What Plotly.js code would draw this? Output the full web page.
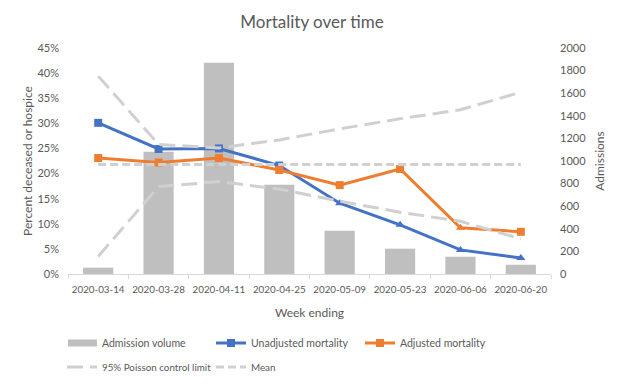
<!DOCTYPE html>
<html><head><meta charset="utf-8">
<script src="https://cdn.plot.ly/plotly-3.0.1.min.js"></script>
<style>html,body{margin:0;padding:0;background:#fff}</style>
</head><body><div id="chart" style="width:624px;height:385px"></div>
<script>
const weeks = ["2020-03-14","2020-03-28","2020-04-11","2020-04-25","2020-05-09","2020-05-23","2020-06-06","2020-06-20"];
const admissions = [56, 1082, 1870, 790, 383, 224, 153, 82];
const unadjusted = [30.1, 24.9, 25.0, 21.6, 14.1, 9.8, 4.8, 3.2];
const adjusted = [23.1, 22.2, 23.1, 20.7, 17.7, 20.9, 9.2, 8.4];
const upperLimit = [39.4, 25.8, 25.1, 26.7, 28.9, 30.9, 32.7, 36.2];
const lowerLimit = [3.5, 17.4, 18.4, 16.9, 14.5, 12.3, 10.5, 7.0];
const meanRate = [21.8, 21.8, 21.8, 21.8, 21.8, 21.8, 21.8, 21.8];
const unadjSymbols = ["square","square","square","square","triangle-up","triangle-up","triangle-up","triangle-up"];
const adjSymbols = ["square","square","square","square","square","square","triangle-up","square"];

const FONT = "Lato, 'Open Sans', sans-serif";
const TXT = "#595959";
const GRAY = "#d0d0d0";

const traces = [
  {type:"bar", x:weeks, y:admissions, name:"Admission volume", yaxis:"y",
   marker:{color:"#bfbfbf"}, legend:"legend", hoverinfo:"skip"},
  {type:"scatter", mode:"lines+markers", x:weeks, y:unadjusted, yaxis:"y2", name:"Unadjusted mortality",
   line:{color:"#4472c4", width:3}, marker:{color:"#4472c4", size:8, symbol:unadjSymbols}, legend:"legend"},
  {type:"scatter", mode:"lines+markers", x:weeks, y:adjusted, yaxis:"y2", name:"Adjusted mortality",
   line:{color:"#ed7d31", width:3}, marker:{color:"#ed7d31", size:8, symbol:adjSymbols}, legend:"legend"},
  {type:"scatter", mode:"lines", x:weeks, y:upperLimit, yaxis:"y2", name:"95% Poisson control limit",
   line:{color:GRAY, width:3, dash:"16px,7px"}, legendgroup:"ctl", legend:"legend2"},
  {type:"scatter", mode:"lines", x:weeks, y:lowerLimit, yaxis:"y2", name:"95% Poisson control limit",
   line:{color:GRAY, width:3, dash:"16px,7px"}, legendgroup:"ctl", showlegend:false, legend:"legend2"},
  {type:"scatter", mode:"lines", x:weeks, y:meanRate, yaxis:"y2", name:"Mean",
   line:{color:GRAY, width:3, dash:"8px,4px"}, legend:"legend2"}
];

const legendCommon = {orientation:"h", xref:"container", yref:"container", xanchor:"left", yanchor:"middle",
  entrywidth:104, entrywidthmode:"pixels", font:{family:FONT, size:10.5, color:TXT},
  bgcolor:"rgba(0,0,0,0)", traceorder:"normal", itemclick:false, itemdoubleclick:false};

const layout = {
  width:624, height:385,
  margin:{l:68, r:73, t:48, b:111},
  paper_bgcolor:"#fff", plot_bgcolor:"#fff",
  font:{family:FONT, color:TXT},
  title:{text:"Mortality over time", font:{family:FONT, size:17, color:TXT}, x:0.5, xanchor:"center", y:1-22/385, yref:"container", yanchor:"middle"},
  bargap:0.5,
  showlegend:true,
  xaxis:{type:"category", tickson:"boundaries", ticks:"outside", ticklen:4, tickcolor:"#d9d9d9",
    showline:true, linecolor:"#d9d9d9", linewidth:1, showgrid:false, zeroline:false,
    tickfont:{family:FONT, size:9.8, color:TXT}, tickangle:0, ticklabelstandoff:6,
    title:{text:"Week ending", font:{family:FONT, size:12, color:TXT}, standoff:14}},
  yaxis:{side:"right", range:[0,2000], dtick:200, showgrid:false, zeroline:false, showline:false,
    tickfont:{family:FONT, size:11, color:TXT}, ticklabelstandoff:8,
    title:{text:"Admissions", font:{family:FONT, size:12, color:TXT}, standoff:10}},
  yaxis2:{overlaying:"y", side:"left", range:[0,45], dtick:5, ticksuffix:"%", showgrid:false, zeroline:false, showline:false,
    tickfont:{family:FONT, size:11, color:TXT}, ticklabelstandoff:8,
    title:{text:"Percent deceased or hospice", font:{family:FONT, size:12, color:TXT}, standoff:2}},
  legend:Object.assign({}, legendCommon, {x:62/624, y:1-343/385}),
  legend2:Object.assign({}, legendCommon, {x:62/624, y:1-367/385, font:{family:FONT, size:9.8, color:TXT}})
};

Plotly.newPlot("chart", traces, layout, {displayModeBar:false, staticPlot:true}).then(function(gd){
  // widen the bar legend swatch to a flat rectangle like the original
  gd.querySelectorAll(".legend .traces").forEach(function(tr){
    var p = tr.querySelector(".legendpoints path");
    var txt = tr.querySelector(".legendtext");
    if (txt && txt.textContent === "Admission volume" && p) {
      p.setAttribute("d", "M-14,-3.5H15V3.5H-14Z");
    }
  });
});
</script></body></html>
